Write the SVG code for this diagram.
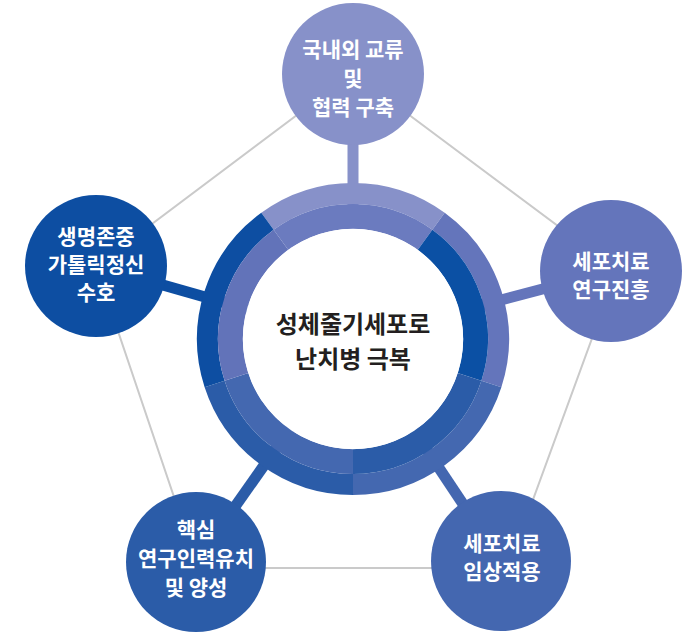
<svg xmlns="http://www.w3.org/2000/svg" width="700" height="638" viewBox="0 0 700 638">
<style>
.edge{fill:none;stroke:#cacaca;stroke-width:2}
.stem{stroke-width:11;stroke-linecap:butt}
.band{fill:none;stroke-linecap:butt}
.o{stroke-width:21}
.i{stroke-width:25}
.lbl{font-family:"Noto Sans CJK KR","Noto Sans",sans-serif;font-size:21px;fill:#ffffff;text-anchor:middle;font-weight:600}
.ctr{font-family:"Noto Sans CJK KR","Noto Sans",sans-serif;font-size:24px;fill:#231f20;text-anchor:middle;font-weight:700}
</style>
<rect width="700" height="638" fill="#ffffff"/>
<g id="connectors">
  <polygon class="edge" points="353,73 617,270 508,568 198,568 96,266"/>
  <line class="stem" x1="353" y1="339" x2="353" y2="74" stroke="#8791c9"/>
  <line class="stem" x1="353" y1="339" x2="611" y2="271" stroke="#6475bb"/>
  <line class="stem" x1="353" y1="339" x2="501" y2="561" stroke="#4467b0"/>
  <line class="stem" x1="353" y1="339" x2="196" y2="562" stroke="#2b5ca8"/>
  <line class="stem" x1="353" y1="339" x2="96" y2="266" stroke="#0d4ea2"/>
</g>
<g id="center">
  <path class="band o" stroke="#8791c9" d="M267.48,221.29 A145.5,145.5 0 0 1 438.52,221.29"/>
  <path class="band o" stroke="#6475bb" d="M438.52,221.29 A145.5,145.5 0 0 1 491.38,383.96"/>
  <path class="band o" stroke="#4468b0" d="M491.38,383.96 A145.5,145.5 0 0 1 353,484.5"/>
  <path class="band o" stroke="#2b5ca8" d="M353,484.5 A145.5,145.5 0 0 1 214.62,383.96"/>
  <path class="band o" stroke="#0d4ea2" d="M214.62,383.96 A145.5,145.5 0 0 1 267.48,221.29"/>
  <path class="band i" stroke="#6b7bbf" d="M281,239.9 A122.5,122.5 0 0 1 425,239.9"/>
  <path class="band i" stroke="#0b50a4" d="M425,239.9 A122.5,122.5 0 0 1 469.5,376.85"/>
  <path class="band i" stroke="#2b5ca8" d="M469.5,376.85 A122.5,122.5 0 0 1 353,461.5"/>
  <path class="band i" stroke="#4468b0" d="M353,461.5 A122.5,122.5 0 0 1 236.5,376.85"/>
  <path class="band i" stroke="#6273b9" d="M236.5,376.85 A122.5,122.5 0 0 1 281,239.9"/>
  <circle cx="353" cy="339" r="110.2" fill="#ffffff"/>
  <text class="ctr" x="353" y="333">성체줄기세포로</text>
  <text class="ctr" x="353" y="368">난치병 극복</text>
</g>
<g id="node-top">
  <circle cx="353" cy="74" r="71" fill="#8791c9"/>
  <text class="lbl" x="353" y="57">국내외 교류</text>
  <text class="lbl" x="353" y="86">및</text>
  <text class="lbl" x="353" y="115">협력 구축</text>
</g>
<g id="node-right">
  <circle cx="611" cy="271" r="71" fill="#6475bb"/>
  <text class="lbl" x="611" y="269">세포치료</text>
  <text class="lbl" x="611" y="297">연구진흥</text>
</g>
<g id="node-bottom-right">
  <circle cx="501" cy="561" r="70" fill="#4467b0"/>
  <text class="lbl" x="502" y="551">세포치료</text>
  <text class="lbl" x="502" y="579">임상적용</text>
</g>
<g id="node-bottom-left">
  <circle cx="196" cy="562" r="70" fill="#2b5ca8"/>
  <text class="lbl" x="196" y="537">핵심</text>
  <text class="lbl" x="196" y="566">연구인력유치</text>
  <text class="lbl" x="196" y="595">및 양성</text>
</g>
<g id="node-left">
  <circle cx="96" cy="266" r="71" fill="#0d4ea2"/>
  <text class="lbl" x="96" y="244">생명존중</text>
  <text class="lbl" x="96" y="272">가톨릭정신</text>
  <text class="lbl" x="96" y="300">수호</text>
</g>
</svg>
